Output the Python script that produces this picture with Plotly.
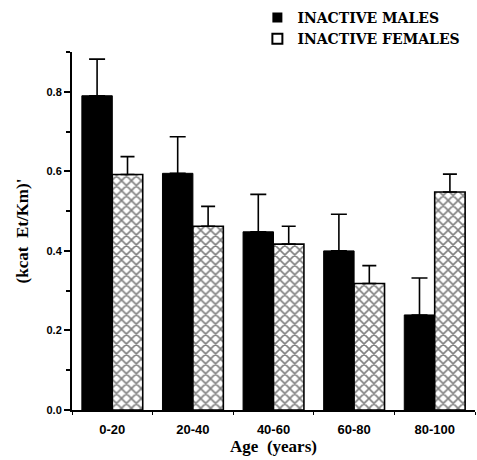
import plotly.graph_objects as go

# Age groups and mean (kcat Et/Km)' with SEM for inactive subjects
age_groups = ["0-20", "20-40", "40-60", "60-80", "80-100"]
males = [0.79, 0.595, 0.448, 0.40, 0.239]
males_err = [0.092, 0.092, 0.094, 0.092, 0.093]
females = [0.592, 0.462, 0.417, 0.318, 0.548]
females_err = [0.045, 0.05, 0.045, 0.045, 0.045]

serif = "Liberation Serif"

fig = go.Figure()

fig.add_trace(go.Bar(
    x=age_groups, y=males, name="INACTIVE MALES",
    marker=dict(color="black", line=dict(color="black", width=1)),
    error_y=dict(type="data", array=males_err, arrayminus=[0] * 5, symmetric=False,
                 color="black", thickness=1.6, width=8),
    showlegend=False,
))
fig.add_trace(go.Bar(
    x=age_groups, y=females, name="INACTIVE FEMALES",
    marker=dict(color="white", line=dict(color="black", width=1.6),
                pattern=dict(shape="x", fgcolor="black", bgcolor="white",
                             size=7, solidity=0.4)),
    error_y=dict(type="data", array=females_err, arrayminus=[0] * 5, symmetric=False,
                 color="black", thickness=1.6, width=7),
    showlegend=False,
))

# Legend entries
fig.add_trace(go.Scatter(
    x=[None], y=[None], mode="markers", name="INACTIVE MALES",
    marker=dict(symbol="square", color="black", size=10),
))
fig.add_trace(go.Scatter(
    x=[None], y=[None], mode="markers", name="INACTIVE FEMALES",
    marker=dict(symbol="square-open", color="black", size=10, line=dict(width=2)),
))

fig.update_layout(
    width=477, height=460,
    margin=dict(l=72, r=2, t=50, b=50),
    paper_bgcolor="white", plot_bgcolor="white",
    barmode="group", bargap=0.245, bargroupgap=0,
    legend=dict(x=0.46, y=1.14, xanchor="left", yanchor="top",
                bgcolor="rgba(0,0,0,0)", tracegroupgap=0, itemwidth=30,
                font=dict(family="DejaVu Serif", size=14, color="black", weight="bold")),
    xaxis=dict(
        range=[-0.5, 4.5], showline=True, linecolor="black", linewidth=2,
        ticks="outside", tickson="boundaries", ticklen=3, tickcolor="black",
        ticklabelstandoff=6, automargin=False,
        tickfont=dict(family="Liberation Sans", size=13, color="black", weight="bold"),
        title=dict(text="Age  (years)", standoff=2,
                   font=dict(family=serif, size=17, color="black", weight="bold")),
        showgrid=False, zeroline=False,
    ),
    yaxis=dict(
        range=[0, 0.9], dtick=0.2, tickformat=".1f", showline=True,
        linecolor="black", linewidth=2, ticks="outside", ticklen=6,
        tickcolor="black", tickwidth=1.5, automargin=False,
        minor=dict(dtick=0.1, ticks="outside", ticklen=4, tickcolor="black"),
        tickfont=dict(family="Liberation Sans", size=11, color="black", weight="bold"),
        title=dict(text="(kcat  Et/Km)'", standoff=14,
                   font=dict(family=serif, size=17, color="black", weight="bold")),
        showgrid=False, zeroline=False,
    ),
)

fig.write_html("out.html")
